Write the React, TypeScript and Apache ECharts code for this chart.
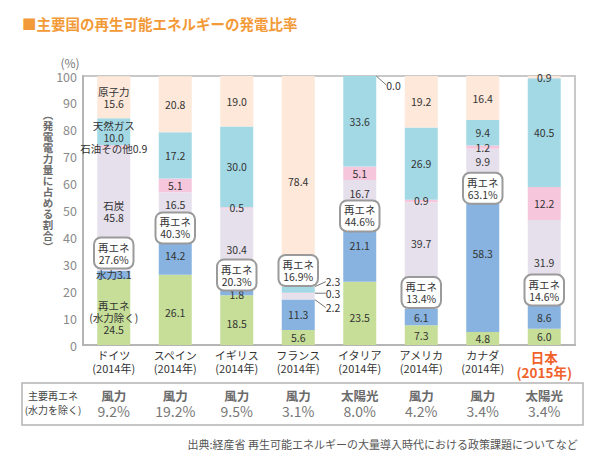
import React, { useEffect, useRef } from "react";
import * as echarts from "echarts";

const FONT = '"Noto Sans CJK JP", "Noto Sans", sans-serif';

// ---- data ----
const categories = ["ドイツ", "スペイン", "イギリス", "フランス", "イタリア", "アメリカ", "カナダ", "日本"];
const years = ["2014年", "2014年", "2014年", "2014年", "2014年", "2014年", "2014年", "2015年"];
const renewExHydro = [24.5, 26.1, 18.5, 5.6, 23.5, 7.3, 4.8, 6.0];
const hydro = [3.1, 14.2, 1.8, 11.3, 21.1, 6.1, 58.3, 8.6];
const coal = [45.8, 16.5, 30.4, 2.2, 16.7, 39.7, 9.9, 31.9];
const oilOther = [0.9, 5.1, 0.5, 0.3, 5.1, 0.9, 1.2, 12.2];
const gas = [10.0, 17.2, 30.0, 2.3, 33.6, 26.9, 9.4, 40.5];
const nuclear = [15.6, 20.8, 19.0, 78.4, 0.0, 19.2, 16.4, 0.9];
const renewTotal = [27.6, 40.3, 20.3, 16.9, 44.6, 13.4, 63.1, 14.6];
const mainRenewType = ["風力", "風力", "風力", "風力", "太陽光", "風力", "風力", "太陽光"];
const mainRenewShare = [9.2, 19.2, 9.5, 3.1, 8.0, 4.2, 3.4, 3.4];

// ---- layout constants ----
const W = 595;
const H = 467;
const GRID_LEFT = 83;
const GRID_RIGHT = 20;
const GRID_TOP = 76;
const GRID_BOTTOM = 122;
const boxOffset = [6.6, 3.2, 5.7, 10.8, 3.4, 6.1, -4.8, 5.8];

const fmt = (v: number) => v.toFixed(1);

type Seg = { key: string; name: string; values: number[]; color: string };
const segs: Seg[] = [
  { key: "renew", name: "再エネ(水力除く)", values: renewExHydro, color: "#c6de98" },
  { key: "hydro", name: "水力", values: hydro, color: "#88b3e0" },
  { key: "coal", name: "石炭", values: coal, color: "#e6e0ec" },
  { key: "oil", name: "石油その他", values: oilOther, color: "#f6c7dc" },
  { key: "gas", name: "天然ガス", values: gas, color: "#a3d9e5" },
  { key: "nuclear", name: "原子力", values: nuclear, color: "#fde8da" },
];

const customText: Record<string, Record<number, string>> = {
  renew: { 0: `再エネ\n(水力除く)\n${fmt(renewExHydro[0])}` },
  hydro: { 0: `水力${fmt(hydro[0])}` },
  coal: { 0: `石炭\n${fmt(coal[0])}` },
  oil: { 0: `石油その他${fmt(oilOther[0])}` },
  gas: { 0: `天然ガス\n${fmt(gas[0])}` },
  nuclear: { 0: `原子力\n${fmt(nuclear[0])}` },
};

// vertical nudges (px) of in-bar labels
const labelDy: Record<string, Record<number, number>> = {
  renew: { 0: 5, 1: 3, 2: 3, 4: 4 },
  hydro: { 2: 2, 4: -8 },
  coal: { 0: 2, 1: -10, 4: -9, 5: -12 },
  oil: { 0: 2 },
};

type R = { x: number; y: number; width: number; height: number };
const moved: Record<string, Record<number, (r: R) => { x: number; y: number }>> = {
  coal: { 3: (r) => ({ x: r.x + r.width + 11, y: r.y + r.height / 2 + 11 }) },
  oil: { 3: (r) => ({ x: r.x + r.width + 11, y: r.y + r.height / 2 }) },
  gas: { 3: (r) => ({ x: r.x + r.width + 11, y: r.y + r.height / 2 - 8 }) },
  nuclear: { 4: (r) => ({ x: r.x + r.width + 10, y: r.y + 9 }) },
};

function buildOption() {
  const plotW = W - GRID_LEFT - GRID_RIGHT;
  const band = plotW / categories.length;
  const colX = (i: number) => GRID_LEFT + (i + 0.5) * band;

  const barSeries = segs.map((s) => ({
    type: "bar",
    name: s.name,
    stack: "total",
    barWidth: 33,
    silent: true,
    itemStyle: { color: s.color },
    data: s.values.map((v, i) => {
      const item: any = { value: v };
      if (moved[s.key]?.[i]) item.labelLine = { show: true };
      return item;
    }),
    label: {
      show: true,
      position: "inside",
      color: "#333",
      fontSize: 10.5,
      lineHeight: 12,
      fontFamily: FONT,
      formatter: (p: any) => customText[s.key]?.[p.dataIndex] ?? fmt(s.values[p.dataIndex]),
    },
    labelLine: { show: false, lineStyle: { color: "#777", width: 1 }, length2: 0 },
    labelLayout: (p: any) => {
      const f = moved[s.key]?.[p.dataIndex];
      if (f) return { ...f(p.rect), align: "left", verticalAlign: "middle" };
      const dy = labelDy[s.key]?.[p.dataIndex];
      if (dy) return { dy };
      return {};
    },
  }));

  const boxSeries = {
    type: "scatter",
    silent: true,
    symbolSize: 1,
    itemStyle: { color: "rgba(0,0,0,0)" },
    z: 10,
    data: renewTotal.map((v, i) => [i, v + boxOffset[i]]),
    label: {
      show: true,
      position: "inside",
      formatter: (p: any) => `再エネ\n${fmt(renewTotal[p.dataIndex])}%`,
      backgroundColor: "#ffffff",
      borderColor: "#9a9a9a",
      borderWidth: 2,
      borderRadius: 6,
      padding: [3, 3, 2, 3],
      color: "#333",
      fontSize: 10.5,
      lineHeight: 12,
      fontFamily: FONT,
      opacity: 1,
    },
  };

  const graphic: any[] = [
    {
      type: "text",
      left: 22,
      top: 16,
      style: {
        text: "■主要国の再生可能エネルギーの発電比率",
        fill: "#f39a38",
        font: `bold 14.5px ${FONT}`,
      },
    },
    {
      type: "text",
      x: 70,
      y: 62,
      style: {
        text: "(%)",
        fill: "#777",
        font: `12px ${FONT}`,
        textAlign: "center",
        textVerticalAlign: "middle",
      },
    },
    {
      type: "text",
      x: 48,
      y: 109,
      style: {
        text: ["︵", "発", "電", "電", "力", "量", "に", "占", "め", "る", "割", "合", "︶"].join("\n"),
        fill: "#6c6c6c",
        fontFamily: FONT,
        fontSize: 10.5,
        fontWeight: "bold",
        lineHeight: 11,
        textAlign: "center",
        textVerticalAlign: "top",
      },
    },
    {
      type: "rect",
      shape: { x: 22, y: 383, width: 561, height: 42 },
      style: { fill: "none", stroke: "#b4b4b4", lineWidth: 1.5 },
    },
    {
      type: "text",
      x: 53,
      y: 395,
      style: { text: "主要再エネ", fill: "#444", font: `10px ${FONT}`, textAlign: "center", textVerticalAlign: "middle" },
    },
    {
      type: "text",
      x: 53,
      y: 409,
      style: { text: "(水力を除く)", fill: "#444", font: `10px ${FONT}`, textAlign: "center", textVerticalAlign: "middle" },
    },
    {
      type: "text",
      right: 17,
      top: 438,
      style: {
        text: "出典:経産省 再生可能エネルギーの大量導入時代における政策課題についてなど",
        fill: "#555",
        font: `11px ${FONT}`,
      },
    },
  ];

  categories.forEach((_, i) => {
    graphic.push({
      type: "text",
      x: colX(i),
      y: 395,
      style: {
        text: mainRenewType[i],
        fill: "#6a6a6a",
        font: `bold 12.5px ${FONT}`,
        textAlign: "center",
        textVerticalAlign: "middle",
      },
    });
    graphic.push({
      type: "text",
      x: colX(i),
      y: 411,
      style: {
        text: `${fmt(mainRenewShare[i])}%`,
        fill: "#777",
        font: `14px ${FONT}`,
        textAlign: "center",
        textVerticalAlign: "middle",
      },
    });
  });

  return {
    animation: false,
    backgroundColor: "#ffffff",
    textStyle: { fontFamily: FONT },
    grid: {
      left: GRID_LEFT,
      right: GRID_RIGHT,
      top: GRID_TOP,
      bottom: GRID_BOTTOM,
      show: true,
      borderColor: "#c8c8c8",
      borderWidth: 2,
    },
    xAxis: {
      type: "category",
      data: categories,
      axisLine: { show: true, lineStyle: { color: "#b5b5b5", width: 2 } },
      axisTick: { show: false },
      axisLabel: {
        interval: 0,
        margin: 4,
        color: "#333",
        fontSize: 11,
        lineHeight: 12.5,
        fontFamily: FONT,
        formatter: (val: string, idx: number) =>
          idx === categories.length - 1
            ? `{jp|${val}}\n{jp|(${years[idx]})}`
            : `${val}\n(${years[idx]})`,
        rich: {
          jp: { color: "#f0622a", fontSize: 13.5, fontWeight: "bold", lineHeight: 15, fontFamily: FONT },
        },
      },
    },
    yAxis: {
      type: "value",
      min: 0,
      max: 100,
      interval: 10,
      axisLine: { show: true, lineStyle: { color: "#b5b5b5", width: 2 } },
      axisTick: { show: false },
      splitLine: { show: false },
      axisLabel: { color: "#8a8a8a", fontSize: 12.5, margin: 6, fontFamily: FONT },
    },
    series: [...barSeries, boxSeries],
    graphic,
  };
}

export default function App() {
  const ref = useRef<HTMLDivElement>(null);
  useEffect(() => {
    if (!ref.current) return;
    const chart = echarts.init(ref.current, null, { renderer: "svg" });
    chart.setOption(buildOption() as any);
    return () => chart.dispose();
  }, []);
  return (
    <div
      ref={ref}
      style={{ position: "absolute", left: 0, top: 0, width: W, height: H, background: "#fff" }}
    />
  );
}
